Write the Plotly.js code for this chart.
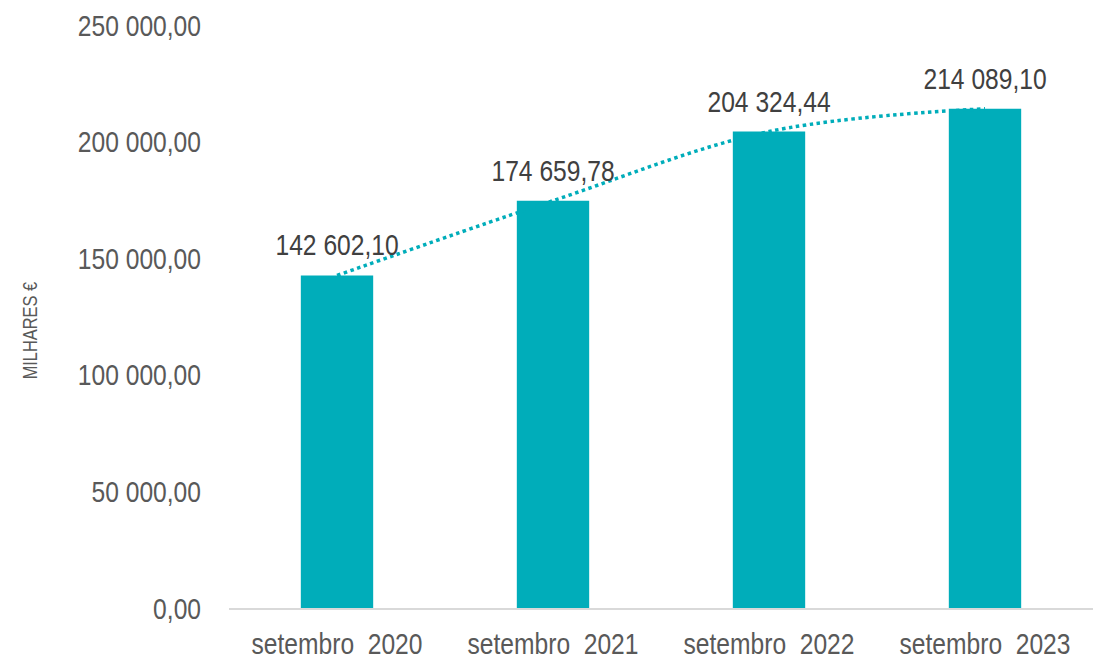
<!DOCTYPE html>
<html>
<head>
<meta charset="utf-8">
<script src="https://cdn.plot.ly/plotly-3.0.1.min.js"></script>
<style>html,body{margin:0;padding:0;background:#fff;}#chart{width:1101px;height:661px;}</style>
</head>
<body>
<div id="chart"></div>
<script>
const categories = ["setembro\u00a0\u00a02020", "setembro\u00a0\u00a02021", "setembro\u00a0\u00a02022", "setembro\u00a0\u00a02023"];
const values = [142602.10, 174659.78, 204324.44, 214089.10];
const yTickValues = [0, 50000, 100000, 150000, 200000, 250000];
const yTitle = "MILHARES €";

const FONT = "'Liberation Sans', Arial, sans-serif";
const TEAL = "#00ADBA";

function fmt(v) {
  const parts = v.toFixed(2).split(".");
  const intPart = parts[0].replace(/\B(?=(\d{3})+(?!\d))/g, " ");
  return intPart + "," + parts[1];
}

const bars = {
  type: "bar",
  x: categories,
  y: values,
  marker: {color: TEAL},
  width: 0.335,
  hoverinfo: "skip",
  showlegend: false
};

const trend = {
  type: "scatter",
  mode: "lines",
  x: categories,
  y: values,
  line: {color: TEAL, width: 3.5, dash: "dot", shape: "spline", smoothing: 1},
  hoverinfo: "skip",
  showlegend: false
};

const annotations = categories.map((c, i) => ({
  x: c, y: values[i], xref: "x", yref: "y",
  text: fmt(values[i]),
  showarrow: false,
  yanchor: "bottom",
  yshift: 12,
  font: {family: FONT, size: 30, color: "#404040"}
}));

annotations.push({
  xref: "paper", yref: "paper",
  x: 0, y: 0.475,
  xanchor: "center", yanchor: "middle",
  xshift: -199,
  textangle: -90,
  text: yTitle,
  showarrow: false,
  font: {family: FONT, size: 20, color: "#595959"}
});

const layout = {
  width: 1101,
  height: 661,
  margin: {l: 229, r: 8, t: 25, b: 53, pad: 0},
  paper_bgcolor: "#ffffff",
  plot_bgcolor: "#ffffff",
  separators: ", ",
  font: {family: FONT, color: "#595959"},
  bargap: 0.665,
  xaxis: {
    type: "category",
    showgrid: false,
    showline: true,
    linecolor: "#D9D9D9",
    linewidth: 2,
    ticks: "",
    tickfont: {family: FONT, size: 30, color: "#595959"},
    ticklabelstandoff: 8,
    zeroline: false
  },
  yaxis: {
    range: [0, 250000],
    tickvals: yTickValues,
    tickformat: ",.2f",
    showgrid: false,
    showline: false,
    zeroline: false,
    ticks: "",
    ticklabelstandoff: 27,
    tickfont: {family: FONT, size: 30, color: "#595959"},
    automargin: false
  },
  annotations: annotations
};

function condense(gd) {
  const SQUEEZE = 0.82;
  gd.querySelectorAll(".xtick text, .ytick text, .annotation-text").forEach(t => {
    if (t.getAttribute("data-condensed")) return;
    const len = t.getComputedTextLength();
    if (len > 0) {
      t.setAttribute("textLength", (len * SQUEEZE).toFixed(2));
      t.setAttribute("lengthAdjust", "spacingAndGlyphs");
      t.setAttribute("data-condensed", "1");
    }
  });
}

Plotly.newPlot("chart", [bars, trend], layout, {displayModeBar: false, staticPlot: true})
  .then(gd => condense(gd));
</script>
</body>
</html>
